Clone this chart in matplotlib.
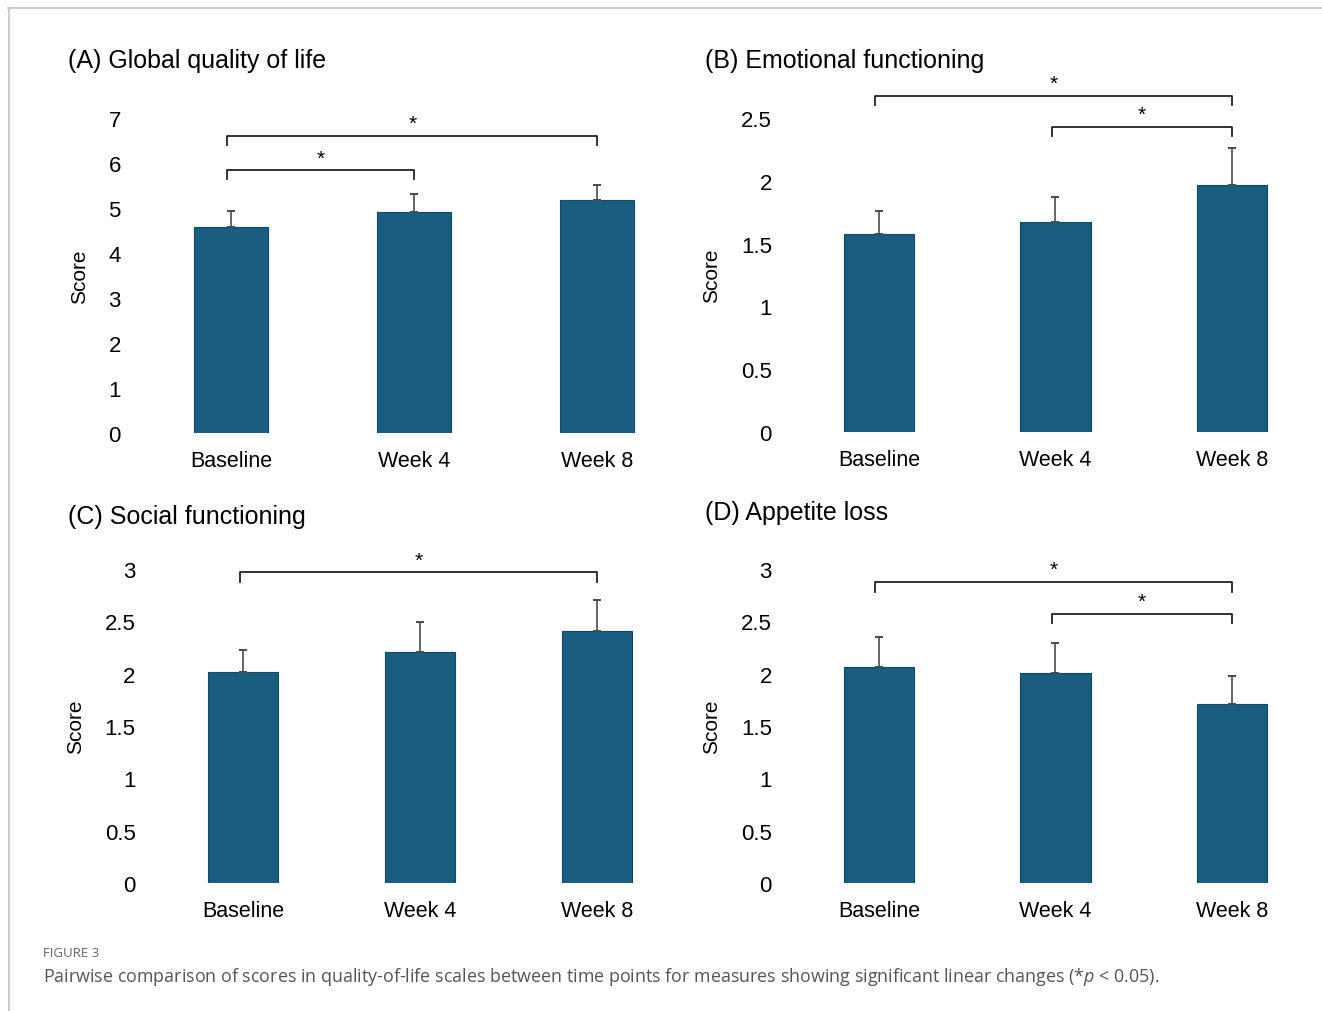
import numpy as np
import matplotlib
matplotlib.use('Agg')
import matplotlib.pyplot as plt
from matplotlib.lines import Line2D

plt.rcParams['font.family'] = ['Liberation Sans', 'DejaVu Sans']
plt.rcParams['mathtext.fontset'] = 'custom'
plt.rcParams['mathtext.rm'] = 'Open Sans'
plt.rcParams['mathtext.it'] = 'Open Sans:italic'

time_points = ['Baseline', 'Week 4', 'Week 8']

# panel data (mean score, upper error)
global_mean = [4.58, 4.91, 5.18]
global_err = [0.35, 0.40, 0.33]
emotional_mean = [1.58, 1.67, 1.97]
emotional_err = [0.18, 0.20, 0.29]
social_mean = [2.02, 2.21, 2.41]
social_err = [0.21, 0.28, 0.29]
appetite_mean = [2.06, 2.01, 1.71]
appetite_err = [0.29, 0.28, 0.27]

# significant pairs: (from, to, bracket height)
global_sig = [(0, 2, 6.6), (0, 1, 5.84)]
emotional_sig = [(0, 2, 2.675), (1, 2, 2.43)]
social_sig = [(0, 2, 2.97)]
appetite_sig = [(0, 2, 2.875), (1, 2, 2.57)]

W, H = 1322, 1012
fig = plt.figure(figsize=(W / 100, H / 100), dpi=100)

bar_color = '#195e81'
edge_color = '#0e4863'


def px_axes(x0, x1, y_top, y_bot):
    return fig.add_axes([x0 / W, 1 - y_bot / H, (x1 - x0) / W, (y_bot - y_top) / H])


def panel(ax, means, errs, sig, ymax, step, drop, title, title_xy):
    x = np.arange(len(time_points))
    ax.bar(x, means, width=0.4, color=bar_color, edgecolor=edge_color, linewidth=0.8, zorder=2)
    ax.errorbar(x, means, yerr=[np.zeros(len(errs)), errs], fmt='none', ecolor='#4a4a4a',
                elinewidth=1.2, capsize=3, capthick=1.4, zorder=3)
    ax.set_xlim(-0.45, 2.25)
    ax.set_ylim(0, ymax)
    ticks = np.arange(0, ymax + step / 2, step)
    ax.set_yticks(ticks)
    ax.set_yticklabels(['{:g}'.format(t) for t in ticks], fontsize=16)
    ax.set_xticks(x)
    ax.set_xticklabels(time_points, fontsize=15.5)
    ax.tick_params(axis='y', length=0, pad=20)
    ax.tick_params(axis='x', length=0, pad=12)
    for s in ax.spines.values():
        s.set_visible(False)
    ax.set_ylabel('Score', fontsize=15, labelpad=14)
    for i, j, yb in sig:
        ax.plot([i - 0.02, i - 0.02, j, j], [yb - drop, yb, yb, yb - drop], color='#222222',
                lw=1.3, clip_on=False, zorder=4)
        ax.annotate('*', xy=((i - 0.02 + j) / 2, yb), xytext=(0, 2), textcoords='offset points',
                    ha='center', va='bottom', fontsize=15, annotation_clip=False)
    fig.text(title_xy[0] / W, 1 - title_xy[1] / H, title, fontsize=18, ha='left', va='center')


axA = px_axes(148.7, 642.8, 119, 434)
panel(axA, global_mean, global_err, global_sig, 7, 1, 0.2,
      '(A) Global quality of life', (68, 61))

axB = px_axes(799.6, 1276.1, 119, 433)
panel(axB, emotional_mean, emotional_err, emotional_sig, 2.5, 0.5, 0.075,
      '(B) Emotional functioning', (705, 61))

axC = px_axes(163.4, 641.3, 570, 884)
panel(axC, social_mean, social_err, social_sig, 3, 0.5, 0.095,
      '(C) Social functioning', (68, 517))

axD = px_axes(799.6, 1276.1, 570, 884)
panel(axD, appetite_mean, appetite_err, appetite_sig, 3, 0.5, 0.09,
      '(D) Appetite loss', (705, 513))

# caption
fig.text(43 / W, 1 - 954 / H, 'FIGURE 3', fontsize=9.5, color='#666666',
         family=['Open Sans', 'DejaVu Sans'], ha='left', va='center')
fig.text(43 / W, 1 - 977 / H,
         'Pairwise comparison of scores in quality-of-life scales between time points for '
         'measures showing significant linear changes (*$p$ < 0.05).',
         fontsize=12.9, color='#555555', family=['Open Sans', 'DejaVu Sans'],
         ha='left', va='center')

# frame lines of the figure panel
fig.add_artist(Line2D([8 / W, 1], [1 - 8.5 / H, 1 - 8.5 / H], color='#c4c4c4', lw=1.2))
fig.add_artist(Line2D([9 / W, 9 / W], [0, 1 - 8.5 / H], color='#c4c4c4', lw=1.2))

fig.savefig('out.png', dpi=100)
